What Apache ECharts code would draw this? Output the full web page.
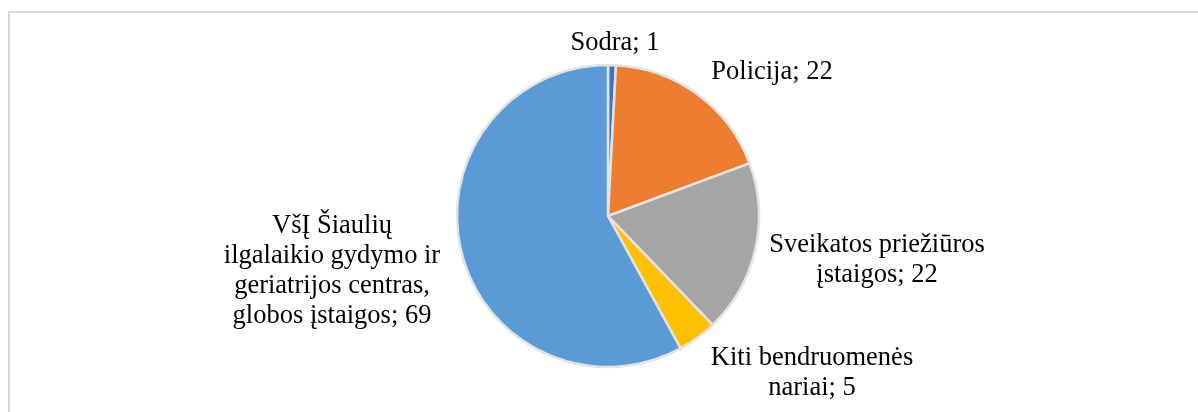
<!DOCTYPE html>
<html>
<head>
<meta charset="utf-8">
<script src="https://cdn.jsdelivr.net/npm/echarts@6/dist/echarts.min.js"></script>
<style>
html,body{margin:0;padding:0;background:#fff;}
#chart{width:1198px;height:412px;}
</style>
</head>
<body>
<div id="chart"></div>
<script>
// Data
var categories = [
  "Sodra",
  "Policija",
  "Sveikatos priežiūros įstaigos",
  "Kiti bendruomenės nariai",
  "VšĮ Šiaulių ilgalaikio gydymo ir geriatrijos centras, globos įstaigos"
];
var labelLines = [
  ["Sodra"],
  ["Policija"],
  ["Sveikatos priežiūros", "įstaigos"],
  ["Kiti bendruomenės", "nariai"],
  ["VšĮ Šiaulių", "ilgalaikio gydymo ir", "geriatrijos centras,", "globos įstaigos"]
];
var values = [1, 22, 22, 5, 69];
var colors = ["#4472C4", "#ED7D31", "#A5A5A5", "#FFC000", "#5B9BD5"];

// label anchor points (layout only)
var labelPos = [
  [615, 43],
  [772, 72],
  [877, 260],
  [812, 373],
  [332, 271]
];

var chart = echarts.init(document.getElementById('chart'), null, {renderer: 'canvas'});
var data = categories.map(function (c, i) {
  return { name: c, value: values[i], itemStyle: { color: colors[i] } };
});

chart.setOption({
  animation: false,
  backgroundColor: '#ffffff',
  graphic: [{
    type: 'rect',
    shape: { x: 9, y: 12, width: 1200, height: 420 },
    style: { fill: 'none', stroke: '#d9d9d9', lineWidth: 2 },
    silent: true
  }],
  series: [{
    type: 'pie',
    center: [608, 216],
    radius: [0, 151],
    startAngle: 90,
    clockwise: true,
    data: data,
    itemStyle: { borderColor: '#e3e3e3', borderWidth: 2.5 },
    label: {
      show: true,
      position: 'outside',
      fontFamily: '"Liberation Serif", "Times New Roman", serif',
      fontSize: 26.5,
      lineHeight: 30,
      color: '#000000',
      formatter: function (p) {
        var lines = labelLines[p.dataIndex].slice();
        lines[lines.length - 1] = lines[lines.length - 1] + '; ' + p.value;
        return lines.join('\n');
      }
    },
    labelLine: { show: false },
    labelLayout: function (params) {
      var p = labelPos[params.dataIndex];
      return { x: p[0], y: p[1], align: 'center', verticalAlign: 'middle', hideOverlap: false };
    }
  }]
});
</script>
</body>
</html>
